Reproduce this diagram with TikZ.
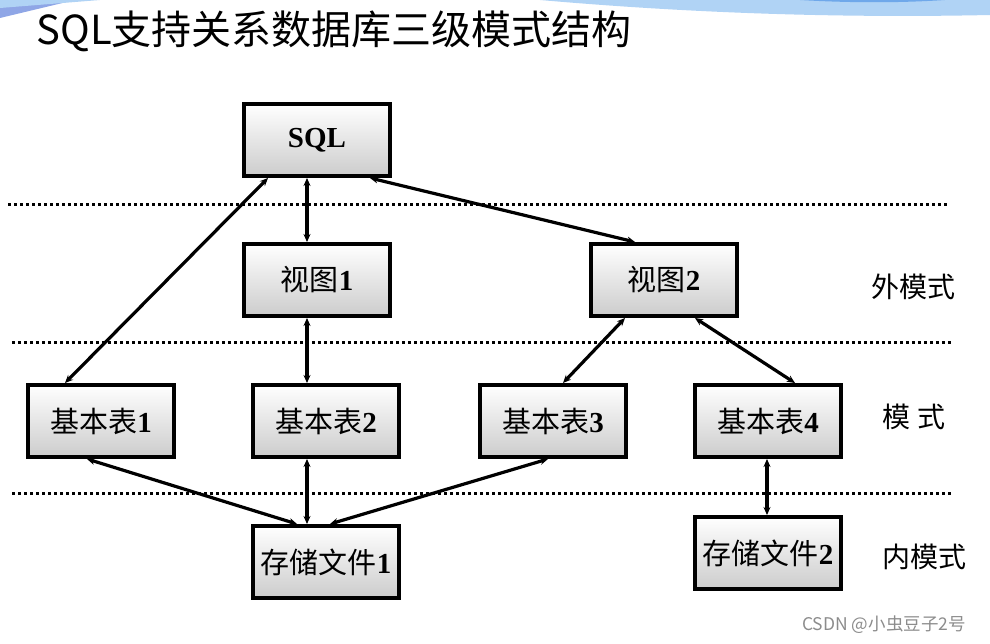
\documentclass[tikz,border=0pt]{standalone}
\usepackage{fontspec}
\setmainfont{Liberation Serif}
\newfontfamily\cjk{Noto Sans CJK SC}
\usetikzlibrary{positioning,arrows.meta}
\definecolor{skyband}{HTML}{B0D3F5}
\definecolor{cornerblue}{HTML}{8FA6E6}
\definecolor{bandblue}{HTML}{6FA8EA}
\newcommand{\zh}[1]{{\cjk\mdseries #1}}
\tikzset{
  box/.style={draw, line width=4pt, minimum width=146pt, minimum height=72pt,
    top color=white, bottom color=black!20, font=\fontsize{29}{31}\selectfont\bfseries},
  link/.style={<->, >={Stealth[length=8pt,width=7pt]}, line width=3.2pt},
  layer/.style={line width=3pt, dash pattern=on 3pt off 3pt},
  tier/.style={font=\cjk\fontsize{28}{30}\selectfont}
}
\begin{document}
\begin{tikzpicture}[x=1pt, y=1pt]
\useasboundingbox (0,0) rectangle (990,-644);
% top band
\fill[cornerblue] (0,0) -- (75,0) -- (0,-18) -- cycle;
\fill[skyband] (0,0) -- (100,0) -- (0,-8) -- cycle;
\fill[skyband] (540,0) .. controls (700,-14) and (850,-18) .. (990,-15) -- (990,0) -- cycle;
\fill[bandblue] (800,0) .. controls (850,-3) and (900,-3) .. (945,0) -- cycle;
\node[anchor=west, font=\cjk\fontsize{40}{44}\selectfont] (title) at (33,-31) {SQL支持关系数据库三级模式结构};

% layers
\draw[layer] (8,-205) -- (947,-205);
\draw[layer] (12,-342) -- (952,-342);
\draw[layer] (12,-493) -- (952,-493);

\node[box] (sql) at (317,-140) {SQL};
\node[box] (v1) [below=64pt of sql] {\zh{视图}1};
\node[box] (v2) [right=197pt of v1] {\zh{视图}2};
\node[box] (t1) at (101,-421) {\zh{基本表}1};
\node[box] (t2) [right=75pt of t1] {\zh{基本表}2};
\node[box] (t3) [right=77pt of t2] {\zh{基本表}3};
\node[box] (t4) [right=65pt of t3] {\zh{基本表}4};
\node[box] (f1) [below=65pt of t2] {\zh{存储文件}1};
\node[box] (f2) [below=56pt of t4] {\zh{存储文件}2};

\node[tier] (ext) at (913,-287) {外模式};
\node[tier] (con) at (914,-417) {模 式};
\node[tier] (int) at (924,-557) {内模式};

\draw[link] ([xshift=-49pt]sql.south) -- ([xshift=-36pt]t1.north);
\draw[link] ([xshift=-10pt]sql.south) -- ([xshift=-10pt]v1.north);
\draw[link] ([xshift=53pt]sql.south) -- ([xshift=-29pt]v2.north);
\draw[link] ([xshift=-10pt]v1.south) -- ([xshift=-19pt]t2.north);
\draw[link] ([xshift=-39pt]v2.south) -- ([xshift=10pt]t3.north);
\draw[link] ([xshift=31pt]v2.south) -- ([xshift=27pt]t4.north);
\draw[link] ([xshift=-14pt]t1.south) -- ([xshift=-29pt]f1.north);
\draw[link] ([xshift=-19pt]t2.south) -- ([xshift=-19pt]f1.north);
\draw[link] ([xshift=-5pt]t3.south) -- ([xshift=4pt]f1.north);
\draw[link] ([xshift=-1pt]t4.south) -- ([xshift=-1pt]f2.north);

\node[font=\cjk\fontsize{17.5}{20}\selectfont, text=black!45] (mark) at (884,-625) {CSDN @小虫豆子2号};
\end{tikzpicture}
\end{document}
